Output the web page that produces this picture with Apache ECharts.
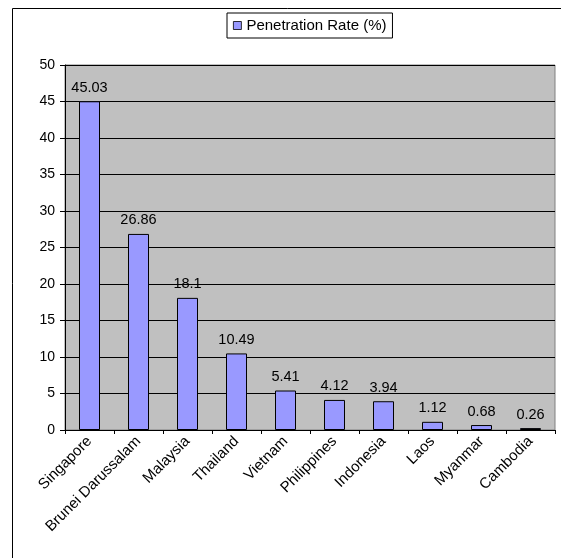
<!DOCTYPE html>
<html>
<head>
<meta charset="utf-8">
<script src="https://cdn.jsdelivr.net/npm/echarts@6/dist/echarts.min.js"></script>
<style>
  html, body, #main { margin: 0; padding: 0; width: 561px; height: 558px; overflow: hidden; background: #fff; }
</style>
</head>
<body>
<div id="main"></div>
<script>
// data
var countries = ["Singapore", "Brunei Darussalam", "Malaysia", "Thailand", "Vietnam",
  "Philippines", "Indonesia", "Laos", "Myanmar", "Cambodia"];
var penetration = [45.03, 26.86, 18.1, 10.49, 5.41, 4.12, 3.94, 1.12, 0.68, 0.26];
var seriesName = "Penetration Rate (%)";

var myChart = echarts.init(document.getElementById("main"));
var font = "Liberation Sans, Arial, sans-serif";

var option = {
  animation: false,
  textStyle: { fontFamily: font },
  // outer frame of the chart area
  graphic: [
    {
      type: "rect",
      shape: { x: 12.5, y: 8.5, width: 600, height: 600 },
      style: { fill: "none", stroke: "#000", lineWidth: 1 },
      silent: true,
    },
  ],
  legend: {
    data: [seriesName],
    left: 227,
    top: 13,
    icon: "rect",
    itemWidth: 8,
    itemHeight: 8,
    itemGap: 4,
    padding: [5, 6, 5, 6],
    borderColor: "#000",
    borderWidth: 1,
    itemStyle: { borderWidth: 0.8 },
    textStyle: { color: "#000", fontSize: 15, fontFamily: font },
  },
  grid: {
    left: 65,
    top: 65,
    width: 490,
    height: 365,
    show: true,
    backgroundColor: "#c0c0c0",
    borderColor: "#808080",
    borderWidth: 1,
  },
  xAxis: {
    type: "category",
    data: countries,
    axisLine: { lineStyle: { color: "#000", width: 1 } },
    axisTick: { show: true, length: 4, alignWithLabel: false, lineStyle: { color: "#000" } },
    axisLabel: {
      rotate: 45,
      interval: 0,
      margin: 9,
      color: "#000",
      fontSize: 15,
      fontFamily: font,
    },
  },
  yAxis: {
    type: "value",
    min: 0,
    max: 50,
    interval: 5,
    axisLine: { show: true, lineStyle: { color: "#000", width: 1 } },
    axisTick: { show: true, length: 5, lineStyle: { color: "#000" } },
    axisLabel: { color: "#000", fontSize: 14, margin: 10, fontFamily: font },
    splitLine: { show: true, lineStyle: { color: "#000", width: 1 } },
  },
  series: [
    {
      name: seriesName,
      type: "bar",
      data: penetration,
      barWidth: 21,
      itemStyle: { color: "#9999ff", borderColor: "#000", borderWidth: 1 },
      label: {
        show: true,
        position: "top",
        distance: 6,
        color: "#000",
        fontSize: 14.5,
        fontFamily: font,
      },
    },
  ],
};

myChart.setOption(option);
window.onresize = myChart.resize;
</script>
</body>
</html>
